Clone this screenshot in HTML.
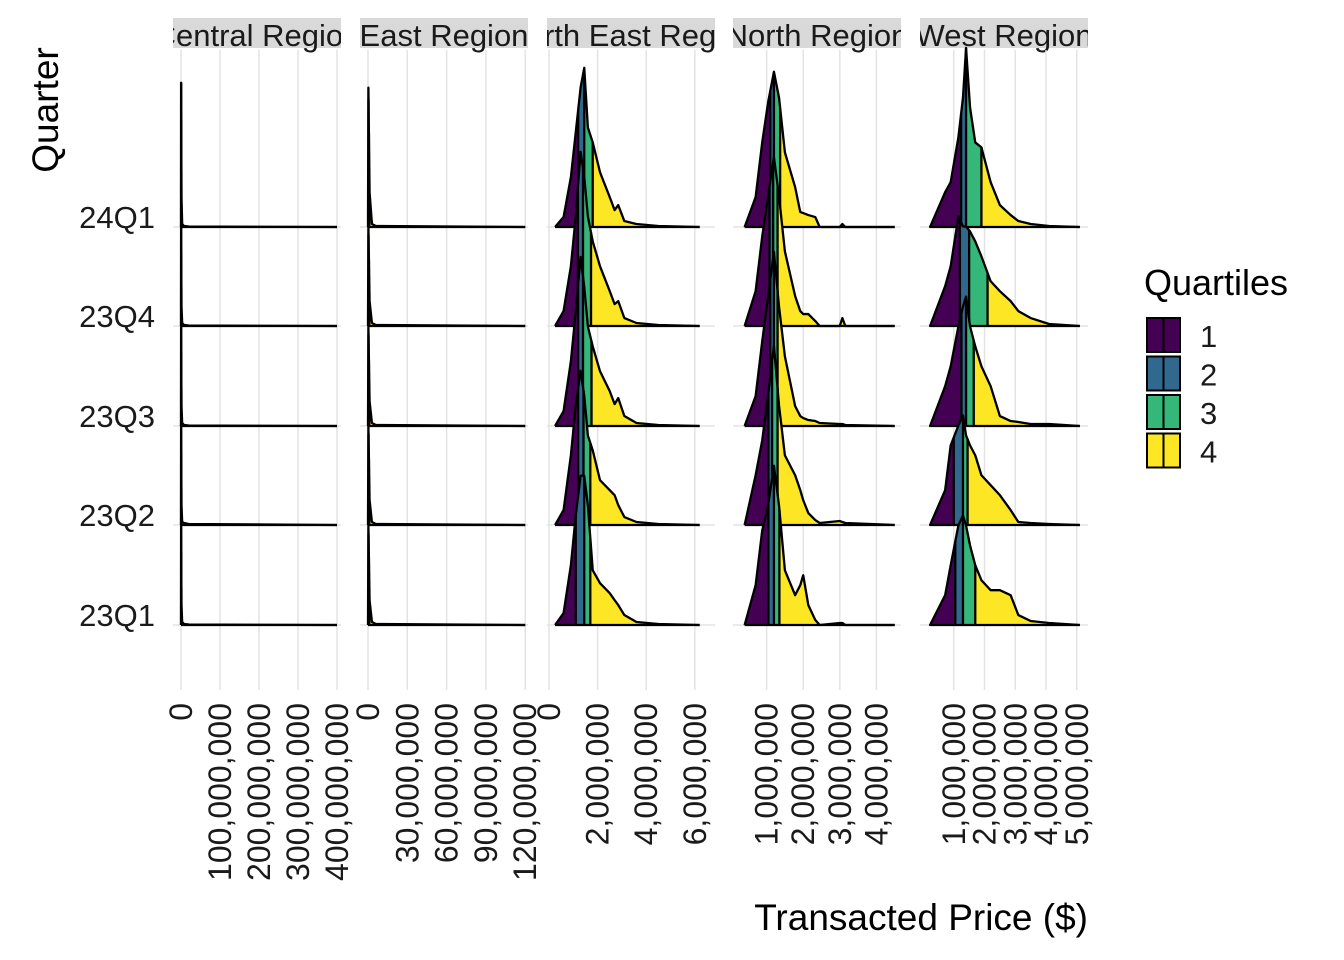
<!DOCTYPE html>
<html><head><meta charset="utf-8">
<style>
body{margin:0;background:#fff;}
svg{display:block;font-family:"Liberation Sans",Arial,sans-serif;}
</style></head>
<body>
<svg id="chart" width="1344" height="960" viewBox="0 0 1344 960"></svg>
<script>
// ---------- DATA ----------
const quarters = ["24Q1","23Q4","23Q3","23Q2","23Q1"];
const regions = ["Central Region","East Region","North East Region","North Region","West Region"];
const tickLabelsCentral = ["0","100,000,000","200,000,000","300,000,000","400,000,000"];
const tickValsCentral = [0,100,200,300,400];
const tickLabelsEast = ["0","30,000,000","60,000,000","90,000,000","120,000,000"];
const tickValsEast = [0,30,60,90,120];
const tickLabelsNE = ["0","2,000,000","4,000,000","6,000,000"];
const tickValsNE = [0,2,4,6];
const tickLabelsNorth = ["1,000,000","2,000,000","3,000,000","4,000,000"];
const tickValsNorth = [1,2,3,4];
const tickLabelsWest = ["1,000,000","2,000,000","3,000,000","4,000,000","5,000,000"];
const tickValsWest = [1,2,3,4,5];
const quartileLabels = ["1","2","3","4"];

// prices in millions, densities scaled so 1 = one ridge spacing
const centralX = [0,0.3,1.2,3,8,20,400];
const centralY = [
 [0,1.45,0.3,0.03,0.01,0.005,0],
 [0,1.0,0.2,0.03,0.01,0.005,0],
 [0,1.0,0.2,0.03,0.01,0.005,0],
 [0,1.0,0.2,0.03,0.02,0.01,0],
 [0,1.0,0.2,0.03,0.01,0.005,0]];
const centralQ = [[0.3,0.6,1.0],[0.3,0.6,1.0],[0.3,0.6,1.0],[0.3,0.6,1.0],[0.3,0.6,1.0]];

const eastX = [0,0.3,1.2,3,6,120];
const eastY = [
 [0,1.4,0.35,0.03,0.01,0],
 [0,1.0,0.25,0.03,0.01,0],
 [0,1.0,0.25,0.03,0.01,0],
 [0,1.0,0.25,0.03,0.01,0],
 [0,1.0,0.25,0.03,0.01,0]];
const eastQ = [[0.4,0.7,1.0],[0.4,0.7,1.0],[0.4,0.7,1.0],[0.4,0.7,1.0],[0.4,0.7,1.0]];

const neX = [0.25,0.6,0.9,1.1,1.3,1.45,1.6,1.8,2.1,2.5,2.7,2.85,3.1,3.6,4.5,6.2];
const neY = [
 [0,0.1,0.5,0.95,1.4,1.6,1.0,0.85,0.55,0.3,0.17,0.22,0.06,0.03,0.01,0],
 [0,0.15,0.6,1.1,1.75,1.5,1.1,0.85,0.6,0.35,0.22,0.25,0.08,0.03,0.01,0],
 [0,0.15,0.65,1.15,1.7,1.4,1.0,0.8,0.55,0.35,0.22,0.28,0.1,0.03,0.01,0],
 [0,0.15,0.7,1.2,1.55,1.3,0.9,0.75,0.45,0.35,0.3,0.2,0.08,0.03,0.01,0],
 [0,0.12,0.6,1.1,1.5,1.5,1.2,0.55,0.42,0.32,0.25,0.2,0.1,0.03,0.01,0]];
const neQ = [[1.2,1.45,1.8],[1.19,1.4,1.73],[1.2,1.4,1.75],[1.2,1.42,1.7],[1.1,1.45,1.7]];

const northX = [0.4,0.7,0.88,1.04,1.2,1.34,1.5,1.78,1.92,2.0,2.14,2.33,2.45,3.0,3.07,3.15,4.5];
const northY = [
 [0,0.3,0.85,1.25,1.56,1.3,0.75,0.4,0.15,0.14,0.12,0.1,0,0,0.03,0,0],
 [0,0.35,0.9,1.3,1.7,1.3,0.75,0.3,0.15,0.12,0.12,0.05,0,0,0.08,0,0],
 [0,0.3,0.85,1.3,1.75,1.2,0.7,0.2,0.1,0.08,0.06,0.05,0.03,0.02,0.02,0.01,0],
 [0,0.5,0.85,1.3,1.8,1.2,0.7,0.5,0.35,0.25,0.12,0.05,0.02,0.04,0.03,0.02,0],
 [0,0.4,0.95,1.2,1.6,1.2,0.55,0.3,0.4,0.5,0.2,0.05,0,0.02,0.02,0,0]];
const northQ = [[1.1,1.2,1.37],[1.08,1.18,1.3],[1.1,1.2,1.3],[1.05,1.15,1.3],[1.05,1.2,1.35]];

const westX = [0.23,0.72,0.9,1.15,1.3,1.4,1.53,1.7,1.9,2.2,2.5,2.85,3.1,3.5,4.1,5.1];
const westY = [
 [0,0.35,0.45,0.9,1.3,1.8,1.2,0.85,0.8,0.45,0.22,0.12,0.06,0.03,0.01,0],
 [0,0.4,0.6,1.1,1.0,1.0,0.95,0.85,0.7,0.45,0.35,0.25,0.15,0.08,0.02,0],
 [0,0.4,0.6,1.0,1.2,1.3,1.0,0.8,0.6,0.4,0.1,0.05,0.04,0.02,0.02,0],
 [0,0.35,0.8,1.0,1.1,0.9,0.8,0.7,0.5,0.4,0.3,0.15,0.03,0.02,0.01,0],
 [0,0.3,0.6,1.0,1.1,1.0,0.8,0.6,0.45,0.35,0.35,0.3,0.1,0.04,0.02,0]];
const westQ = [[1.24,1.4,1.9],[1.2,1.5,2.1],[1.25,1.4,1.65],[1.0,1.3,1.45],[1.05,1.3,1.7]];

// ---------- LAYOUT ----------
const svg = document.getElementById('chart');
const NS = 'http://www.w3.org/2000/svg';
const colors = ["#440154","#31688E","#35B779","#FDE725"];
const baselines = [227,326,426,525,625];
const unitH = 99.5;
const panels = [
 {x0:173,x1:341,px0:181,pxPer:0.39,X:centralX,Y:centralY,Q:centralQ,tv:tickValsCentral,tl:tickLabelsCentral,name:'central'},
 {x0:360,x1:528,px0:368,pxPer:1.31,X:eastX,Y:eastY,Q:eastQ,tv:tickValsEast,tl:tickLabelsEast,name:'east'},
 {x0:547,x1:715,px0:549,pxPer:24.3,X:neX,Y:neY,Q:neQ,tv:tickValsNE,tl:tickLabelsNE,name:'north-east'},
 {x0:733,x1:901,px0:730,pxPer:36.6,X:northX,Y:northY,Q:northQ,tv:tickValsNorth,tl:tickLabelsNorth,name:'north'},
 {x0:920,x1:1088,px0:923,pxPer:30.75,X:westX,Y:westY,Q:westQ,tv:tickValsWest,tl:tickLabelsWest,name:'west'}];

function mk(tag, attrs, parent){
  const e=document.createElementNS(NS,tag);
  for(const k in attrs) e.setAttribute(k,attrs[k]);
  (parent||svg).appendChild(e); return e;
}
function interp(X,Y,x){
  if(x<=X[0]) return Y[0];
  for(let i=1;i<X.length;i++){ if(x<=X[i]){const t=(x-X[i-1])/(X[i]-X[i-1]);return Y[i-1]+t*(Y[i]-Y[i-1]);} }
  return Y[Y.length-1];
}

quarters.forEach((q,i)=>{
  const t=mk('text',{x:155,y:baselines[i]+1,'text-anchor':'end','font-size':31,fill:'#1a1a1a'});
  t.textContent=q;
  
  
});

panels.forEach((p,pi)=>{
  const g=mk('g',{});
  
  
  const sx=v=>p.px0+v*p.pxPer;
  const clipId='clip'+pi;
  const cp=mk('clipPath',{id:clipId},g); mk('rect',{x:p.x0,y:0,width:p.x1-p.x0,height:960},cp);
  const sg=mk('g',{'clip-path':'url(#'+clipId+')'},g);
  const sr=mk('rect',{x:p.x0,y:18,width:p.x1-p.x0,height:30,fill:'#D9D9D9'},sg);
  
  
  const st=mk('text',{x:(p.x0+p.x1)/2,y:46,'text-anchor':'middle','font-size':31,fill:'#1a1a1a'},sg);
  st.textContent=regions[pi];
  
  
  p.tv.forEach(v=>{ mk('line',{x1:sx(v),x2:sx(v),y1:50,y2:690,stroke:'#E3E3E3','stroke-width':1.5},g); });
  baselines.forEach(b=>{ mk('line',{x1:p.x0,x2:p.x1,y1:b,y2:b,stroke:'#E3E3E3','stroke-width':1.5},g); });
  quarters.forEach((q,qi)=>{
    const X=p.X, Y=p.Y[qi], Q=p.Q[qi], b=baselines[qi];
    const sy=v=>b-v*unitH;
    const rg=mk('g',{},g);
    
    
    const bounds=[X[0],Q[0],Q[1],Q[2],X[X.length-1]];
    for(let k=0;k<4;k++){
      const a=bounds[k], c=bounds[k+1];
      const pts=[[a,interp(X,Y,a)]];
      X.forEach((x,i)=>{ if(x>a&&x<c) pts.push([x,Y[i]]); });
      pts.push([c,interp(X,Y,c)]);
      let d='M'+sx(a)+','+b;
      pts.forEach(pt=>{ d+=' L'+sx(pt[0]).toFixed(2)+','+sy(pt[1]).toFixed(2); });
      d+=' L'+sx(c)+','+b+' Z';
      const path=mk('path',{d:d,fill:colors[k],stroke:'none'},rg);
      
      
    }
    let d='M'+sx(X[0])+','+sy(Y[0]);
    X.forEach((x,i)=>{ d+=' L'+sx(x).toFixed(2)+','+sy(Y[i]).toFixed(2); });
    const ol=mk('path',{d:d,fill:'none',stroke:'#000','stroke-width':2.3,'stroke-linejoin':'round'},rg);
    
    
    mk('line',{x1:sx(X[0]),x2:sx(X[X.length-1]),y1:b,y2:b,stroke:'#000','stroke-width':2.3},rg);
    Q.forEach(qv=>{
      const ql=mk('line',{x1:sx(qv),x2:sx(qv),y1:b,y2:sy(interp(X,Y,qv)),stroke:'#000','stroke-width':2.3},rg);
      
      
    });
  });
  p.tv.forEach((v,i)=>{
    const x=sx(v)+11, y=703;
    const t=mk('text',{x:x,y:y,'text-anchor':'end','font-size':32,fill:'#1a1a1a',transform:'rotate(-90 '+x+' '+y+')'},g);
    t.textContent=p.tl[i];
    
    
  });
});

let t=mk('text',{x:1088,y:930,'text-anchor':'end','font-size':37,fill:'#000'});
t.textContent='Transacted Price ($)';


t=mk('text',{x:58,y:110,'text-anchor':'middle','font-size':37,fill:'#000',transform:'rotate(-90 58 110)'});
t.textContent='Quarter';



const lg=mk('g',{});


t=mk('text',{x:1144,y:295,'font-size':36,fill:'#000'},lg);
t.textContent='Quartiles';


quartileLabels.forEach((l,i)=>{
  const y=318+i*38.5;
  const eg=mk('g',{},lg);
  
  
  mk('rect',{x:1147,y:y,width:33,height:34,fill:colors[i],stroke:'#000','stroke-width':2},eg);
  mk('line',{x1:1163.5,x2:1163.5,y1:y,y2:y+34,stroke:'#000','stroke-width':2},eg);
  const lt=mk('text',{x:1200,y:y+29,'font-size':31,fill:'#1a1a1a'},eg);
  lt.textContent=l;
});
</script>
</body></html>
